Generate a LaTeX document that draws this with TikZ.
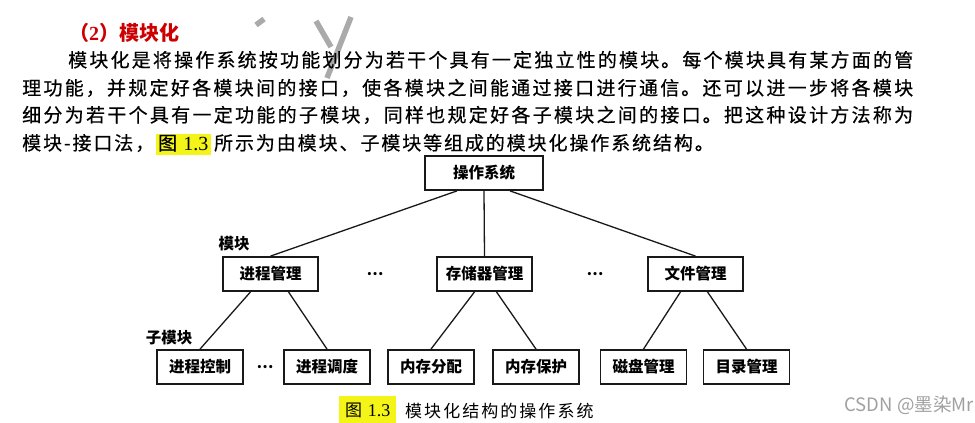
\documentclass[tikz,border=0pt]{standalone}
\usepackage{fontspec}
\setmainfont{Liberation Serif}
\newfontfamily\cjk{Noto Sans CJK SC}
\newfontfamily\cjkwide{Noto Sans CJK SC}[LetterSpace=10,FakeBold=0.5]
\newfontfamily\cjkcap{Noto Sans CJK SC}[LetterSpace=12]
\XeTeXlinebreaklocale "zh"
\XeTeXlinebreakskip=0pt plus 6pt
\definecolor{hl}{RGB}{244,244,24}
\definecolor{headred}{RGB}{204,0,0}
\definecolor{wmgray}{RGB}{170,170,170}
\definecolor{csdngray}{RGB}{160,160,160}
\begin{document}
\begin{tikzpicture}[x=1pt,y=-1pt,
  body/.style={inner sep=0pt,font=\cjkwide\fontsize{19}{27}\selectfont,text=black},
  bodyline/.style={body,text width=891pt,align=justify,anchor=base west},
  box/.style={draw=black!90,line width=1.8pt,inner sep=0pt,minimum height=34pt,font=\cjk\bfseries\fontsize{15.5}{18}\selectfont},
  mod/.style={box,minimum width=95pt},
  sub/.style={box,minimum width=86pt},
  tag/.style={inner sep=0pt,font=\cjk\bfseries\fontsize{15.5}{18}\selectfont},
  gap/.style={inner sep=0pt,font=\cjk\bfseries\fontsize{15}{18}\selectfont},
  link/.style={line width=1.3pt,draw=black!90},
  wm/.style={line width=5.5pt,draw=wmgray}]
  \useasboundingbox (0,0) rectangle (975,423);
  \draw[wm] (256,25) -- (264,19);
  \draw[wm] (316,21) -- (331,47);
  \draw[wm] (351,17) -- (327,78);
  \node[anchor=base west,inner sep=0pt,text=headred,font=\cjk\bfseries\fontsize{20}{22}\selectfont] (head) at (69,40) {（{\normalfont\bfseries 2}）模块化};
  \node[bodyline] (line1) at (22,67) {\parfillskip=0pt\noindent\hspace*{46pt}模块化是将操作系统按功能划分为若干个具有一定独立性的模块。每个模块具有某方面的管\par};
  \node[bodyline] (line2) at (22,95) {\parfillskip=0pt\noindent 理功能，并规定好各模块间的接口，使各模块之间能通过接口进行通信。还可以进一步将各模块\par};
  \node[bodyline] (line3) at (22,122) {\parfillskip=0pt\noindent 细分为若干个具有一定功能的子模块，同样也规定好各子模块之间的接口。把这种设计方法称为\par};
  \node[body,anchor=base west] (line4a) at (22,150) {模块-接口法，};
  \node[body,anchor=base west,fill=hl,inner xsep=2.5pt,inner ysep=1pt,text height=15pt,text depth=4pt] (line4b) at ([xshift=1pt]line4a.base east) {图 {\normalfont\fontsize{20}{22}\selectfont 1.3}};
  \node[body,anchor=base west] (line4c) at ([xshift=3pt]line4b.base east) {所示为由模块、子模块等组成的模块化操作系统结构。};
  \node[box,minimum width=118pt] (os) at (484,173) {操作系统};
  \node[mod] (pm) at (270.5,274) {进程管理};
  \node[mod] (mm) at (484.5,274) {存储器管理};
  \node[mod] (fm) at (695.5,274) {文件管理};
  \node[sub] (pc) at (200,367) {进程控制};
  \node[sub] (ps) at (327,367) {进程调度};
  \node[sub] (ma) at (431,367) {内存分配};
  \node[sub] (mp) at (536,367) {内存保护};
  \node[sub] (dm) at (643.5,367) {磁盘管理};
  \node[sub] (dr) at (746.5,367) {目录管理};
  \draw[link] ([xshift=-27pt]os.south) -- (pm.north);
  \draw[link] (os.south) -- (mm.north);
  \draw[link] ([xshift=26pt]os.south) -- (fm.north);
  \draw[link] ([xshift=-20pt]pm.south) -- (pc.north);
  \draw[link] ([xshift=18pt]pm.south) -- (ps.north);
  \draw[link] ([xshift=-10pt]mm.south) -- (ma.north);
  \draw[link] ([xshift=12pt]mm.south) -- (mp.north);
  \draw[link] ([xshift=-15pt]fm.south) -- (dm.north);
  \draw[link] ([xshift=12pt]fm.south) -- (dr.north);
  \node[tag] (modtag) at (234,244) {模块};
  \node[tag] (subtag) at (169,338) {子模块};
  \node[gap] (dots1) at (375,274) {…};
  \node[gap] (dots2) at (595,274) {…};
  \node[gap] (dots3) at (265,367) {…};
  \node[fill=hl,inner sep=0pt,minimum width=57pt,minimum height=28pt,anchor=north west,font=\cjkcap\fontsize{17}{20}\selectfont] (fig) at (339,396) {图 {\normalfont\fontsize{18}{20}\selectfont 1.3}};
  \node[anchor=west,inner sep=0pt,font=\cjkcap\fontsize{17}{20}\selectfont] (cap) at (405,411) {模块化结构的操作系统};
  \node[anchor=east,inner sep=0pt,text=csdngray,font=\cjk\fontsize{18.5}{20}\selectfont] (csdn) at (974,405) {CSDN @墨染Mr};
\end{tikzpicture}
\end{document}
